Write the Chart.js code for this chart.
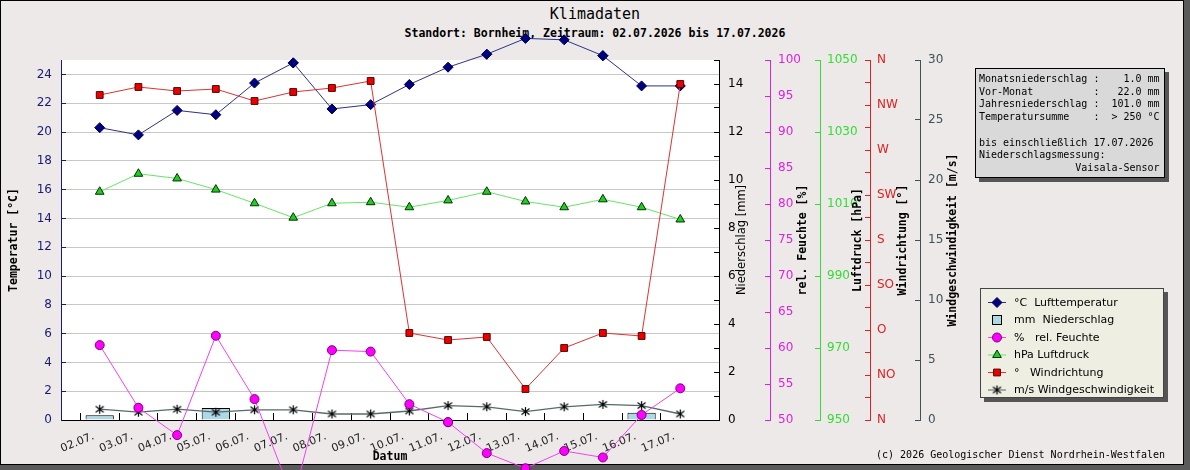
<!DOCTYPE html>
<html>
<head>
<meta charset="utf-8">
<script src="https://cdn.jsdelivr.net/npm/chart.js@4.4.1/dist/chart.umd.min.js"></script>
<style>
html,body{margin:0;padding:0;background:#ece9e8;}
#wrap{position:relative;width:1190px;height:470px;overflow:hidden;background:#5a5a5a;}
#frame{position:absolute;left:0;top:0;width:1182px;height:463px;border:1px solid #000;background:#ece9e8;}
#chart{position:absolute;left:0;top:0;z-index:2;}
.txt{position:absolute;white-space:pre;font-family:'DejaVu Sans Mono',monospace;color:#000;}
#title{left:0;width:1190px;text-align:center;top:5px;font-size:15px;line-height:18px;z-index:1;}
#subtitle{left:0;width:1190px;text-align:center;top:26px;font-size:11.5px;line-height:15px;font-weight:bold;z-index:1;}
#info{left:975px;top:68px;width:188px;height:108px;border:1px solid #000;background:#d9d9d9;box-shadow:4px 4px 0 #555;font-size:10px;line-height:12.7px;padding:0;z-index:3;}
#info .in{position:absolute;left:3px;top:4px;}
#footer{left:600px;width:565px;text-align:right;top:448px;font-size:10px;line-height:14px;z-index:3;}
</style>
</head>
<body>
<div id="wrap">
  <div id="frame"></div>
  <div id="title" class="txt">Klimadaten</div>
  <div id="subtitle" class="txt">Standort: Bornheim, Zeitraum: 02.07.2026 bis 17.07.2026</div>
  <canvas id="chart" width="1190" height="470"></canvas>
  <div id="info" class="txt"><div class="in">Monatsniederschlag :    1.0 mm
Vor-Monat          :   22.0 mm
Jahresniederschlag :  101.0 mm
Temperatursumme    :  &gt; 250 °C

bis einschließlich 17.07.2026
Niederschlagsmessung:
                Vaisala-Sensor</div></div>
  <div id="footer" class="txt">(c) 2026 Geologischer Dienst Nordrhein-Westfalen</div>
</div>
<script>
// ---------- data ----------
const dates = ['02.07.','03.07.','04.07.','05.07.','06.07.','07.07.','08.07.','09.07.',
               '10.07.','11.07.','12.07.','13.07.','14.07.','15.07.','16.07.','17.07.'];
const temperature   = [20.3, 19.8, 21.5, 21.2, 23.4, 24.8, 21.6, 21.9, 23.3, 24.5, 25.4, 26.5, 26.4, 25.3, 23.2, 23.2];
const precipitation = [0.2, null, null, 0.5, null, null, null, null, null, null, null, null, null, null, 0.3, null];
const humidity      = [60.4, 51.7, 47.9, 61.7, 52.9, 39.0, 59.7, 59.5, 52.2, 49.7, 45.4, 43.3, 45.7, 44.8, 50.7, 54.4];
const pressure      = [1013.4, 1018.4, 1017.1, 1014.0, 1010.2, 1006.2, 1010.2, 1010.5, 1009.1, 1011.0, 1013.4, 1010.7, 1009.1, 1011.3, 1009.1, 1005.7];
const windDirection = [325, 333, 329, 331, 319, 328, 332, 339, 87, 80, 83, 31, 72, 87, 84, 336];
const windSpeed     = [0.9, 0.65, 0.9, 0.65, 0.85, 0.85, 0.5, 0.5, 0.75, 1.2, 1.1, 0.7, 1.1, 1.3, 1.2, 0.5];
const windDirLabels = ['N','NO','O','SO','S','SW','W','NW','N'];
const legendUnits   = ['°C  ', 'mm  ', '%   ', 'hPa ', '°   ', 'm/s '];
const legendNames   = ['Lufttemperatur','Niederschlag','rel. Feuchte','Luftdruck','Windrichtung','Windgeschwindigkeit'];

// padded category axis: empty slot on each side
const pad = a => [null, ...a, null];
const xLabels = ['', ...dates, ''];

// asterisk marker
const star = document.createElement('canvas');
star.width = 11; star.height = 11;
(function(){
  const c = star.getContext('2d');
  c.strokeStyle = '#000'; c.lineWidth = 1.2;
  c.beginPath();
  c.moveTo(5.5, 1); c.lineTo(5.5, 10);
  c.moveTo(1.5, 2.5); c.lineTo(9.5, 8.5);
  c.moveTo(9.5, 2.5); c.lineTo(1.5, 8.5);
  c.stroke();
})();

const MONO = "'DejaVu Sans Mono', monospace";
const SANS = "'DejaVu Sans', sans-serif";

const C = {
  temp: '#1a1a78', tempLine: '#30308a',
  prec: '#000000',
  hum: '#dd22dd', humLine: '#ee44ee',
  pres: '#33dd33', presLine: '#66e666',
  dir: '#dd2222', dirLine: '#dd3333',
  spd: '#3d5257', spdLine: '#556b6b'
};

const bgPlugin = {
  id: 'bg',
  beforeDraw(chart) {
    const {ctx, chartArea: a} = chart;
    ctx.save(); ctx.fillStyle = '#ffffff';
    ctx.fillRect(a.left, a.top, a.right - a.left, a.bottom - a.top);
    ctx.restore();
  }
};

// draw markers that lie outside the plot area (the library skips them)
const outsidePointsPlugin = {
  id: 'outsidePoints',
  afterDatasetDraw(chart, args) {
    const meta = args.meta;
    if (meta.type !== 'line') return;
    const a = chart.chartArea;
    const big = {left: -1e5, top: -1e5, right: 1e5, bottom: 1e5};
    for (const p of meta.data) {
      if (p.skip) continue;
      const r = (p.options && p.options.radius) || 0;
      if (p.y < a.top - r || p.y > a.bottom + r || p.y < a.top + r && p.y >= a.top - r && false) {
        p.draw(chart.ctx, big);
      } else if (p.y - r < a.top || p.y + r > a.bottom) {
        // partially outside: library skipped it too
        p.draw(chart.ctx, big);
      }
    }
  }
};

const titlesPlugin = {
  id: 'axisTitles',
  afterDraw(chart) {
    const {ctx, chartArea: a, scales: s} = chart;
    const cy = (a.top + a.bottom) / 2;
    const items = [
      ['Temperatur [°C]', s.yTemp.left + 14, '#000', 'bold 11.5px ' + MONO],
      ['Niederschlag [mm]', s.yPrec.left + 23, '#000', '11.5px ' + SANS],
      ['rel. Feuchte [%]', s.yHum.left + 33, '#000', 'bold 11.5px ' + MONO],
      ['Luftdruck [hPa]', s.yPres.left + 38, '#000', 'bold 11.5px ' + MONO],
      ['Windrichtung [°]', s.yDir.left + 33, '#000', 'bold 11.5px ' + MONO],
      ['Windgeschwindigkeit [m/s]', s.ySpd.left + 33, '#000', 'bold 11.5px ' + MONO]
    ];
    ctx.save();
    for (const [t, x, col, f] of items) {
      ctx.save();
      ctx.translate(x, cy); ctx.rotate(-Math.PI / 2);
      ctx.font = f; ctx.fillStyle = col; ctx.textAlign = 'center'; ctx.textBaseline = 'middle';
      ctx.fillText(t, 0, 0);
      ctx.restore();
    }
    ctx.font = 'bold 11.5px ' + MONO; ctx.fillStyle = '#000';
    ctx.textAlign = 'center'; ctx.textBaseline = 'middle';
    ctx.fillText('Datum', (a.left + a.right) / 2, 457);
    ctx.restore();
  }
};

const legendPlugin = {
  id: 'boxLegend',
  afterDraw(chart) {
    const {ctx} = chart;
    const bx = 980, by = 288, bw = 184, bh = 110;
    ctx.save();
    ctx.fillStyle = '#555'; ctx.fillRect(bx + 4, by + 4, bw, bh);
    ctx.fillStyle = '#eeeee2'; ctx.fillRect(bx, by, bw, bh);
    ctx.strokeStyle = '#444'; ctx.lineWidth = 1; ctx.strokeRect(bx + 0.5, by + 0.5, bw - 1, bh - 1);
    const ds = chart.data.datasets;
    ds.forEach((d, i) => {
      const y = by + 14.5 + i * 17.5;
      if (d.type === 'bar') {
        ctx.fillStyle = d.backgroundColor; ctx.strokeStyle = d.borderColor;
        ctx.fillRect(992.5, y - 4.5, 9, 9); ctx.strokeRect(992.5, y - 4.5, 9, 9);
      } else {
        ctx.strokeStyle = d.borderColor; ctx.lineWidth = 1;
        ctx.beginPath(); ctx.moveTo(988, y); ctx.lineTo(1006, y); ctx.stroke();
        ctx.fillStyle = d.pointBackgroundColor; ctx.strokeStyle = d.pointBorderColor;
        Chart.helpers.drawPoint(ctx, {pointStyle: d.pointStyle, radius: d.pointRadius, rotation: 0, borderWidth: 1}, 997, y);
      }
      ctx.fillStyle = '#000'; ctx.font = '11px ' + SANS; ctx.textAlign = 'left'; ctx.textBaseline = 'middle';
      ctx.fillText(legendUnits[i] + legendNames[i], 1014, y + 0.5);
    });
    ctx.restore();
  }
};

function rightAxis(col, min, max, step, width, weight, pad, cb) {
  return {
    type: 'linear', position: 'right', min, max, weight,
    grid: {drawOnChartArea: false, drawTicks: true, tickLength: -5, color: col, tickColor: col},
    border: {color: col, width: 1},
    ticks: {stepSize: step, color: col, padding: pad, font: {family: SANS, size: 12}, callback: cb},
    afterFit(s) { s.width = width; }
  };
}

new Chart(document.getElementById('chart'), {
  data: {
    labels: xLabels,
    datasets: [
      {type: 'line', label: 'Lufttemperatur', data: pad(temperature), yAxisID: 'yTemp',
       borderColor: C.tempLine, borderWidth: 1, pointStyle: 'rectRot', pointRadius: 5,
       pointBackgroundColor: '#000080', pointBorderColor: '#000050', pointBorderWidth: 1, clip: false, order: 1},
      {type: 'bar', label: 'Niederschlag', data: pad(precipitation), yAxisID: 'yPrec',
       backgroundColor: '#add8e6', borderColor: '#000', borderWidth: 1, barPercentage: 0.73, categoryPercentage: 1,
       clip: false, order: 10},
      {type: 'line', label: 'rel. Feuchte', data: pad(humidity), yAxisID: 'yHum',
       borderColor: C.humLine, borderWidth: 1, pointStyle: 'circle', pointRadius: 4.5,
       pointBackgroundColor: '#ff00ff', pointBorderColor: '#800080', pointBorderWidth: 1, clip: false, order: 3},
      {type: 'line', label: 'Luftdruck', data: pad(pressure), yAxisID: 'yPres',
       borderColor: C.presLine, borderWidth: 1, pointStyle: 'triangle', pointRadius: 5,
       pointBackgroundColor: '#22cc22', pointBorderColor: '#003300', pointBorderWidth: 1, clip: false, order: 4},
      {type: 'line', label: 'Windrichtung', data: pad(windDirection), yAxisID: 'yDir',
       borderColor: C.dirLine, borderWidth: 1, pointStyle: 'rect', pointRadius: 4.8,
       pointBackgroundColor: '#ee0000', pointBorderColor: '#550000', pointBorderWidth: 1, clip: false, order: 0},
      {type: 'line', label: 'Windgeschwindigkeit', data: pad(windSpeed), yAxisID: 'ySpd',
       borderColor: C.spdLine, borderWidth: 1.3, pointStyle: star, pointRadius: 5,
       pointBackgroundColor: '#000', pointBorderColor: '#000', clip: false, order: 5}
    ]
  },
  options: {
    responsive: false, animation: false, devicePixelRatio: 1,
    spanGaps: false,
    layout: {autoPadding: false, padding: {left: 0, top: 60, right: 210, bottom: 0}},
    plugins: {legend: {display: false}, tooltip: {enabled: false}, title: {display: false}},
    scales: {
      x: {
        type: 'category', offset: false,
        grid: {drawOnChartArea: false, drawTicks: true, tickLength: -7, color: '#000',
               tickColor: ctx => (ctx.index === 0 || ctx.index === xLabels.length - 1) ? 'rgba(0,0,0,0)' : '#000'},
        border: {color: '#000', width: 1},
        ticks: {autoSkip: false, minRotation: 22, maxRotation: 22, padding: 17, labelOffset: -6,
                color: '#222', font: {family: SANS, size: 11}},
        afterFit(s) { s.height = 50; }
      },
      yTemp: {
        type: 'linear', position: 'left', min: 0, max: 25,
        grid: {drawTicks: true, tickLength: -5, tickColor: C.temp,
               color: ctx => (ctx.tick && ctx.tick.value % 2 === 0 && ctx.tick.value > 0) ? '#c8c8c8' : 'rgba(0,0,0,0)'},
        border: {color: C.temp, width: 1},
        ticks: {stepSize: 1, color: C.temp, padding: 14, font: {family: SANS, size: 12},
                callback: v => v % 2 === 0 ? v : ''},
        afterFit(s) { s.width = 61; }
      },
      yPrec: rightAxis(C.prec, 0, 15, 1, 51, 1, 14, v => v % 2 === 0 ? v : ''),
      yHum:  rightAxis(C.hum, 50, 100, 5, 50, 2, 13, v => v),
      yPres: rightAxis(C.pres, 950, 1050, 20, 50, 3, 12, v => v),
      yDir:  rightAxis(C.dir, 0, 360, 22.5, 50, 4, 12, v => (v % 45 === 0) ? windDirLabels[v / 45] : ''),
      ySpd:  rightAxis(C.spd, 0, 30, 5, 60, 5, 13, v => v)
    }
  },
  plugins: [bgPlugin, outsidePointsPlugin, titlesPlugin, legendPlugin]
});
</script>
</body>
</html>
